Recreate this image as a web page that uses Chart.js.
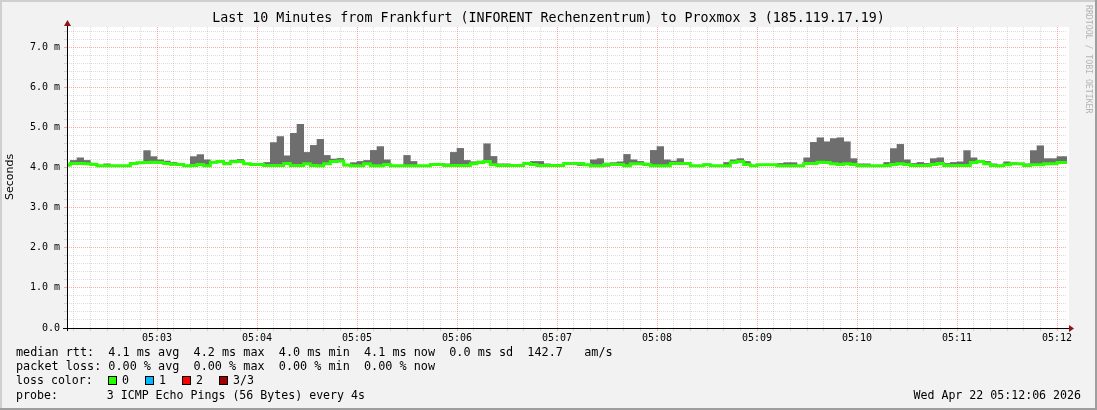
<!DOCTYPE html>
<html><head><meta charset="utf-8">
<script src="https://cdn.jsdelivr.net/npm/chart.js@4.4.1/dist/chart.umd.min.js"></script>
<style>html,body{margin:0;padding:0;background:#f2f2f2;}canvas{display:block;}</style>
</head><body>
<canvas id="c" width="1097" height="410"></canvas>
<script>
const titleText = "Last 10 Minutes from Frankfurt (INFORENT Rechenzentrum) to Proxmox 3 (185.119.17.19)";
const yAxisTitle = "Seconds";
const watermark = "RRDTOOL / TOBI OETIKER";
const startSec = 6;    // left edge = 05:02:06 (seconds after 05:02:00)
const endSec = 606;    // right edge = 05:12:06
const stepSec = 4;     // one sample every 4 s
const minorTickSec = 10;
const majorTickSec = 60;
const hourLabel = "05";
const baseMinute = 2;

// median RTT (ms) per 4 s step
const medianMs = [4.06,4.10,4.10,4.09,4.08,4.045,4.04,4.04,4.04,4.04,
4.10,4.12,4.125,4.13,4.125,4.10,4.08,4.075,4.045,4.05,
4.075,4.04,4.13,4.15,4.09,4.14,4.15,4.095,4.075,4.075,
4.05,4.05,4.05,4.10,4.05,4.05,4.09,4.05,4.045,4.09,
4.15,4.16,4.06,4.04,4.04,4.09,4.04,4.04,4.075,4.04,
4.04,4.04,4.04,4.04,4.04,4.075,4.075,4.05,4.05,4.05,
4.05,4.09,4.125,4.15,4.065,4.05,4.05,4.05,4.05,4.10,
4.075,4.05,4.05,4.05,4.05,4.10,4.10,4.10,4.07,4.04,
4.04,4.075,4.075,4.075,4.04,4.09,4.09,4.075,4.04,4.04,
4.04,4.10,4.10,4.10,4.04,4.04,4.065,4.04,4.04,4.04,
4.13,4.15,4.075,4.04,4.065,4.065,4.065,4.04,4.04,4.04,
4.04,4.10,4.10,4.13,4.125,4.09,4.075,4.09,4.075,4.045,
4.045,4.04,4.04,4.05,4.075,4.09,4.075,4.05,4.05,4.05,
4.075,4.10,4.05,4.05,4.05,4.05,4.125,4.15,4.09,4.05,
4.04,4.065,4.09,4.09,4.05,4.065,4.065,4.09,4.09,4.125,4.125];

// lowest ping (ms) per step
const minMs = [4.04,4.08,4.08,4.07,4.06,4.025,4.02,4.02,4.02,4.02,
4.08,4.10,4.105,4.11,4.105,4.08,4.06,4.055,4.025,4.03,
4.055,4.02,4.11,4.13,4.07,4.12,4.13,4.075,4.055,4.055,
4.03,4.03,4.03,4.08,4.03,4.03,4.07,4.03,4.025,4.07,
4.13,4.14,4.04,4.02,4.02,4.07,4.02,4.02,4.055,4.02,
4.02,4.02,4.02,4.02,4.02,4.055,4.055,4.03,4.03,4.03,
4.03,4.07,4.105,4.13,4.045,4.03,4.03,4.03,4.03,4.08,
4.055,4.03,4.03,4.03,4.03,4.08,4.08,4.05,4.05,4.02,
4.02,4.03,4.055,4.055,4.02,4.07,4.07,4.055,4.02,4.02,
4.02,4.08,4.08,4.08,4.02,4.02,4.045,4.02,4.02,4.02,
4.11,4.13,4.055,4.02,4.045,4.045,4.045,4.02,4.02,4.02,
4.02,4.08,4.08,4.11,4.105,4.07,4.055,4.07,4.055,4.025,
4.025,4.02,4.02,4.03,4.055,4.07,4.055,4.03,4.03,4.03,
4.055,4.08,4.03,4.03,4.03,4.03,4.105,4.13,4.07,4.03,
4.02,4.045,4.07,4.07,4.03,4.045,4.045,4.07,4.07,4.105,4.105];

// highest ping (ms) per step
const maxMs = [4.07,4.175,4.24,4.175,4.09,4.055,4.09,4.05,4.05,4.05,
4.11,4.13,4.42,4.27,4.19,4.16,4.125,4.085,4.055,4.27,
4.32,4.19,4.15,4.17,4.125,4.18,4.20,4.105,4.085,4.085,
4.125,4.62,4.77,4.29,4.85,5.075,4.375,4.55,4.70,4.30,
4.21,4.225,4.07,4.12,4.15,4.175,4.425,4.52,4.19,4.05,
4.05,4.30,4.15,4.05,4.05,4.085,4.085,4.09,4.375,4.475,
4.175,4.14,4.16,4.59,4.275,4.09,4.09,4.06,4.06,4.13,
4.15,4.15,4.09,4.06,4.06,4.11,4.11,4.11,4.08,4.19,
4.22,4.11,4.12,4.14,4.325,4.19,4.15,4.11,4.425,4.52,
4.19,4.16,4.22,4.125,4.05,4.05,4.09,4.05,4.05,4.125,
4.19,4.22,4.15,4.05,4.075,4.075,4.075,4.10,4.12,4.12,
4.05,4.24,4.625,4.74,4.64,4.72,4.74,4.64,4.22,4.09,
4.09,4.05,4.05,4.125,4.47,4.575,4.19,4.10,4.125,4.10,
4.22,4.24,4.10,4.125,4.14,4.42,4.24,4.175,4.15,4.09,
4.05,4.14,4.12,4.10,4.09,4.42,4.54,4.22,4.22,4.27,4.27];

const legendLines = [
  "median rtt:  4.1 ms avg  4.2 ms max  4.0 ms min  4.1 ms now  0.0 ms sd  142.7   am/s",
  "packet loss: 0.00 % avg  0.00 % max  0.00 % min  0.00 % now",
  "loss color:",
  "probe:       3 ICMP Echo Pings (56 Bytes) every 4s"
];
const legendFontPx = [11.8, 11.8, 11.6, 11.6];
const lossLabels = ["0", "1", "2", "3/3"];
const lossColors = ["#26ff00", "#00b8ff", "#ff0000", "#a10000"];
const dateText = "Wed Apr 22 05:12:06 2026";

const smokeColor = "#6e6e6e";
const medianColor = "#26ff00";
const minorGrid = "rgba(128,128,128,0.27)";
const majorGrid = "rgba(255,70,70,0.45)";
const mono = '"DejaVu Sans Mono", monospace';

const smokeData = maxMs.map((v, i) => ({x: startSec + i * stepSec, y: [minMs[i], v]}));
const medianData = medianMs.map((v, i) => ({x: startSec + i * stepSec, y: v}));

const isInt = v => Math.abs(v - Math.round(v)) < 1e-6;

const framePlugin = {
  id: 'frame',
  beforeDraw(chart) {
    const ctx = chart.ctx, W = chart.width, H = chart.height, ca = chart.chartArea;
    ctx.save();
    ctx.fillStyle = '#f2f2f2';
    ctx.fillRect(0, 0, W, H);
    ctx.fillStyle = '#cfcfcf';
    ctx.fillRect(0, 0, W, 2);
    ctx.fillRect(0, 0, 2, H);
    ctx.fillStyle = '#9e9e9e';
    ctx.fillRect(0, H - 2, W, 2);
    ctx.fillRect(W - 2, 0, 2, H);
    ctx.fillStyle = '#ffffff';
    ctx.fillRect(ca.left, ca.top, ca.right - ca.left + 2, ca.bottom - ca.top);
    ctx.restore();
  },
  afterDraw(chart) {
    const ctx = chart.ctx, ca = chart.chartArea;
    const xs = chart.scales.x, ys = chart.scales.y;
    ctx.save();
    const y0 = Math.round(ys.getPixelForValue(0)) + 0.5;
    const x0 = Math.round(xs.getPixelForValue(startSec)) + 0.5;
    ctx.strokeStyle = '#000';
    ctx.lineWidth = 1;
    ctx.beginPath();
    ctx.moveTo(x0, ca.bottom + 3);
    ctx.lineTo(x0, ca.top - 1);
    ctx.moveTo(ca.left - 4, y0);
    ctx.lineTo(ca.right + 2, y0);
    ctx.stroke();
    ctx.fillStyle = '#8f1414';
    ctx.beginPath();
    ctx.moveTo(x0 - 3.5, ca.top - 1);
    ctx.lineTo(x0 + 3.5, ca.top - 1);
    ctx.lineTo(x0, ca.top - 7);
    ctx.closePath();
    ctx.fill();
    ctx.beginPath();
    ctx.moveTo(ca.right + 2, y0 - 3.5);
    ctx.lineTo(ca.right + 2, y0 + 3.5);
    ctx.lineTo(ca.right + 7, y0);
    ctx.closePath();
    ctx.fill();

    // title
    ctx.fillStyle = '#000';
    ctx.font = '13.3px ' + mono;
    ctx.textAlign = 'center';
    ctx.textBaseline = 'middle';
    ctx.fillText(titleText, 548.5, 19);

    // y axis title
    ctx.save();
    ctx.translate(10, 177);
    ctx.rotate(-Math.PI / 2);
    ctx.font = '11px "DejaVu Sans", sans-serif';
    ctx.fillText(yAxisTitle, 0, 0);
    ctx.restore();

    // watermark
    ctx.save();
    ctx.translate(1088, 5);
    ctx.rotate(Math.PI / 2);
    ctx.textAlign = 'left';
    ctx.fillStyle = '#b4b4b4';
    ctx.font = '8.2px ' + mono;
    ctx.fillText(watermark, 0, 0);
    ctx.restore();

    // legend
    ctx.textAlign = 'left';
    ctx.fillStyle = '#000';
    const ly = [353, 367, 381, 396];
    legendLines.forEach((t, i) => {
      ctx.font = legendFontPx[i] + 'px ' + mono;
      ctx.fillText(t, 16, ly[i]);
    });
    ctx.font = '11.6px ' + mono;
    const boxX = [108, 145, 182, 219];
    lossLabels.forEach((t, i) => {
      ctx.fillStyle = lossColors[i];
      ctx.fillRect(boxX[i], ly[2] - 5, 9, 9);
      ctx.strokeStyle = '#000';
      ctx.strokeRect(boxX[i] + 0.5, ly[2] - 4.5, 8, 8);
      ctx.fillStyle = '#000';
      ctx.fillText(t, boxX[i] + 14, ly[2]);
    });
    ctx.textAlign = 'right';
    ctx.fillText(dateText, 1081, ly[3]);
    ctx.restore();
  }
};

new Chart(document.getElementById('c'), {
  type: 'bar',
  data: {
    datasets: [
      {
        type: 'line',
        data: medianData,
        borderColor: medianColor,
        borderWidth: 3,
        stepped: 'middle',
        pointRadius: 0,
        fill: false,
        order: 1,
        clip: {left: 0, right: 0, top: false, bottom: false}
      },
      {
        type: 'bar',
        data: smokeData,
        backgroundColor: smokeColor,
        borderWidth: 0,
        barPercentage: 1,
        categoryPercentage: 1,
        order: 2,
        clip: {left: 0, right: 0, top: false, bottom: false}
      }
    ]
  },
  options: {
    responsive: false,
    animation: false,
    devicePixelRatio: 1,
    events: [],
    layout: {padding: {left: 0, right: 30, top: 27, bottom: 0}},
    plugins: {legend: {display: false}, tooltip: {enabled: false}},
    scales: {
      x: {
        type: 'linear',
        min: startSec,
        max: endSec,
        offset: false,
        afterFit: s => { s.height = 82; },
        afterBuildTicks: s => {
          const t = [];
          for (let v = Math.ceil(startSec / minorTickSec) * minorTickSec; v <= endSec; v += minorTickSec) t.push({value: v});
          s.ticks = t;
        },
        ticks: {
          autoSkip: false,
          maxRotation: 0,
          minRotation: 0,
          padding: 1,
          color: '#000',
          font: {family: 'DejaVu Sans Mono', size: 10},
          callback: v => (v % majorTickSec === 0) ? hourLabel + ':' + String(baseMinute + v / 60).padStart(2, '0') : ''
        },
        grid: {
          offset: false,
          lineWidth: 1,
          tickLength: 3,
          color: c => (c.tick && c.tick.value % majorTickSec === 0) ? majorGrid : minorGrid,
          tickColor: c => (c.tick && c.tick.value % majorTickSec === 0) ? majorGrid : minorGrid
        },
        border: {display: false, dash: [1, 1]}
      },
      y: {
        min: 0,
        max: 7.5,
        afterFit: s => { s.width = 67; },
        ticks: {
          stepSize: 0.2,
          includeBounds: false,
          autoSkip: false,
          padding: 4,
          color: '#000',
          font: {family: 'DejaVu Sans Mono', size: 10},
          callback: v => isInt(v) ? (Math.round(v) === 0 ? '0.0' : Math.round(v).toFixed(1) + ' m') : ''
        },
        grid: {
          lineWidth: 1,
          tickLength: 3,
          color: c => (c.tick && isInt(c.tick.value) && c.tick.value > 0) ? majorGrid : minorGrid,
          tickColor: c => (c.tick && isInt(c.tick.value)) ? majorGrid : minorGrid
        },
        border: {display: false, dash: [1, 1]}
      }
    }
  },
  plugins: [framePlugin]
});
</script>
</body></html>
